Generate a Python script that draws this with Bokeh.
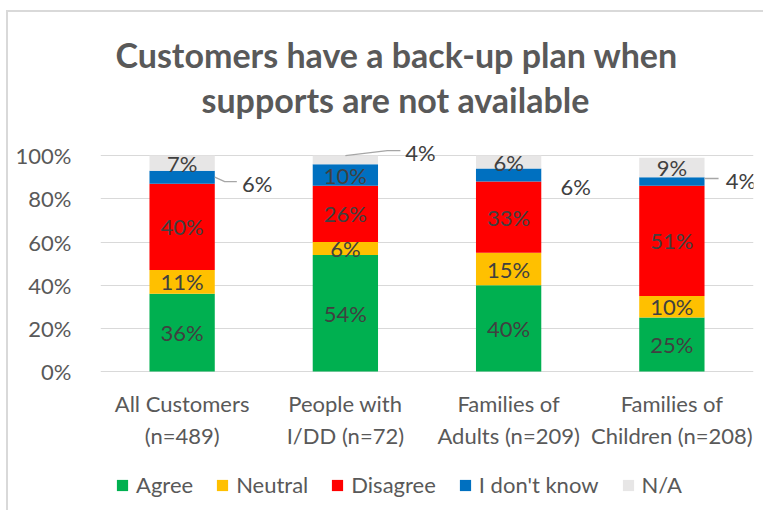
from bokeh.plotting import figure
from bokeh.models import (Range1d, FixedTicker, Title, Legend, LegendItem, ColumnDataSource,
                          InlineStyleSheet)
from bokeh.core.properties import value
from bokeh.embed import file_html
from bokeh.resources import INLINE

# ---- data ----
groups_line1 = ["All Customers", "People with", "Families of", "Families of"]
groups_line2 = ["(n=489)", "I/DD (n=72)", "Adults (n=209)", "Children (n=208)"]
series = ["Agree", "Neutral", "Disagree", "I don't know", "N/A"]
agree = [36, 54, 40, 25]
neutral = [11, 6, 15, 10]
disagree = [40, 26, 33, 51]
dont_know = [6, 10, 6, 4]
na = [7, 4, 6, 9]
y_ticks = [0, 20, 40, 60, 80, 100]

colors = ["#00B050", "#FFC000", "#FF0000", "#0070C0", "#E7E6E6"]
FONT = "Lato"
TXT = "#595959"
LBL = "#404040"
FS = "22px"

values = [agree, neutral, disagree, dont_know, na]
xpos = [i + 0.5 for i in range(len(groups_line1))]

# frame spans the plot and the area below it (category labels + legend)
PX_PER_UNIT = 2.16
FRAME_H = 362
YMAX = 107
p = figure(frame_width=653, frame_height=FRAME_H, output_backend="svg", toolbar_location=None,
           x_range=Range1d(0, len(xpos)), y_range=Range1d(YMAX - FRAME_H / PX_PER_UNIT, YMAX),
           min_border_left=100, min_border_right=10, min_border_top=140,
           min_border_bottom=8, x_axis_type=None)
p.outline_line_color = None
p.background_fill_color = "white"
p.border_fill_color = "white"
p.stylesheets = [InlineStyleSheet(css=":host::after { content: ''; position: absolute; "
                                      "left: 6px; top: 10px; right: 0px; bottom: 0px; "
                                      "border-left: 2px solid #D9D9D9; border-top: 2px solid #D9D9D9; "
                                      "pointer-events: none; }")]

# stacked bars
src = ColumnDataSource(dict(x=xpos, **{s: v for s, v in zip(series, values)}))
renderers = p.vbar_stack(series, x="x", width=0.4, source=src, color=colors,
                         line_color=None)

# data labels
outside = {(3, 0): (75, 6), (4, 1): (75, -7), (3, 2): (67, 11), (3, 3): (69, -1)}
for si, vals in enumerate(values):
    for gi, v in enumerate(vals):
        base = sum(values[k][gi] for k in range(si))
        mid = base + v / 2
        xo, yo = outside.get((si, gi), (0, 0))
        p.text(x=[xpos[gi]], y=[mid], text=[f"{v}%"], x_offset=xo, y_offset=yo,
               text_align="center", text_baseline="middle",
               text_font=value(FONT), text_font_size=FS, text_color=LBL)

# leader lines (derived from bar geometry)
half = 0.2
def seg_top(si, gi):
    return sum(values[k][gi] for k in range(si + 1))
def seg_mid(si, gi):
    return seg_top(si, gi) - values[si][gi] / 2

lx, ly = [], []
m = seg_mid(3, 0)
lx.append([xpos[0] + half, xpos[0] + half + 0.061, xpos[0] + half + 0.135]); ly.append([m, m - 2, m - 2])
t = seg_top(4, 1)
lx.append([xpos[1], xpos[1] + 0.257, xpos[1] + 0.337]); ly.append([t, t + 2.3, t + 2.3])
m = seg_mid(3, 3)
lx.append([xpos[3] + half, xpos[3] + half + 0.086]); ly.append([m + 1.4, m + 1.4])
p.multi_line(xs=lx, ys=ly, line_color="#A6A6A6", line_width=1.3)

# category labels (two lines) under the bars
p.text(x=xpos, y=[0] * len(xpos), text=groups_line1, y_offset=32,
       text_align="center", text_baseline="middle",
       text_font=value(FONT), text_font_size=FS, text_color=TXT)
p.text(x=xpos, y=[0] * len(xpos), text=groups_line2, y_offset=64,
       text_align="center", text_baseline="middle",
       text_font=value(FONT), text_font_size=FS, text_color=TXT)

# y axis
p.yaxis.ticker = FixedTicker(ticks=y_ticks)
p.yaxis.major_label_overrides = {t: f"{t}%" for t in y_ticks}
p.yaxis.axis_line_color = None
p.yaxis.major_tick_line_color = None
p.yaxis.minor_tick_line_color = None
p.yaxis.major_label_standoff = 23
p.yaxis.major_label_text_font = FONT
p.yaxis.major_label_text_font_size = FS
p.yaxis.major_label_text_color = TXT

p.xgrid.grid_line_color = None
p.ygrid.ticker = FixedTicker(ticks=y_ticks)
p.ygrid.grid_line_color = "#D9D9D9"
p.ygrid.grid_line_width = 1

# legend
legend = Legend(items=[LegendItem(label=s, renderers=[r]) for s, r in zip(series, renderers)],
                orientation="horizontal", location=(15, 4),
                label_text_font=FONT, label_text_font_size=FS, label_text_color=TXT,
                glyph_width=14, glyph_height=14, label_standoff=7, spacing=22,
                padding=0, margin=0, border_line_color=None, background_fill_alpha=0)
p.add_layout(legend, "center")

# title (two lines)
TKW = dict(align="left", text_font=FONT, text_font_size="34px", text_font_style="bold",
           text_color=TXT)
p.add_layout(Title(text="supports are not available", standoff=42, offset=101, **TKW), "above")
p.add_layout(Title(text="Customers have a back-up plan when", standoff=-38, offset=15, **TKW), "above")

open("out.html", "w").write(file_html(p, INLINE))
